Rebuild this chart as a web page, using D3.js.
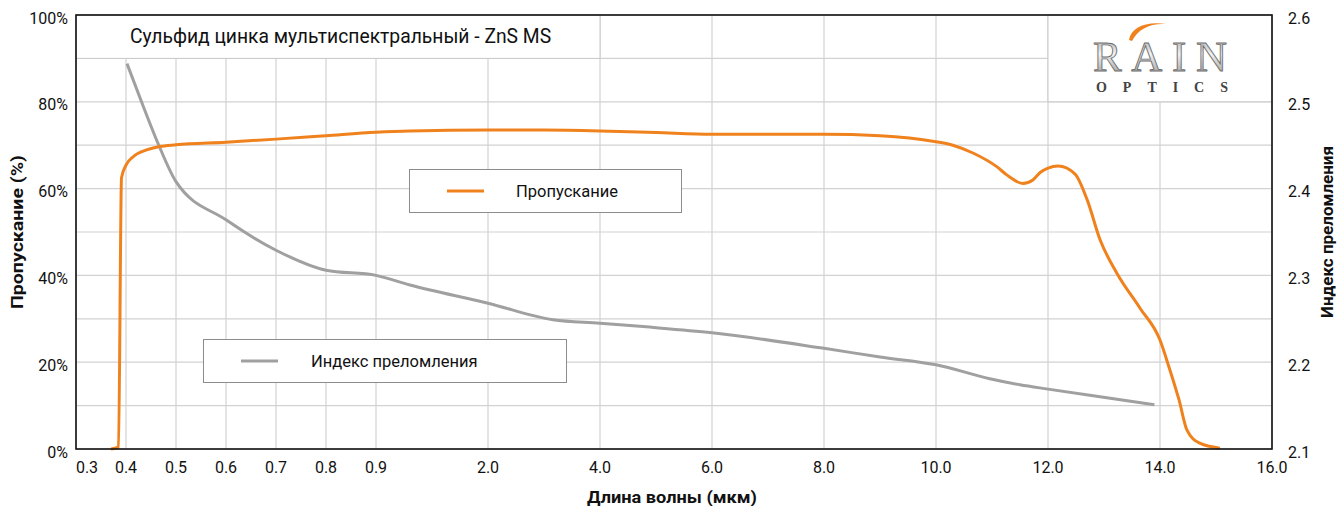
<!DOCTYPE html>
<html>
<head>
<meta charset="utf-8">
<script src="https://cdn.jsdelivr.net/npm/d3@7"></script>
<style>
  body { margin: 0; background: #fff; }
  svg { display: block; font-family: Roboto, "Noto Sans", sans-serif; }
</style>
</head>
<body>
<svg id="chart" width="1338" height="506"></svg>
<script>
// Axis ticks (wavelength axis is piecewise: 0.3..0.9 fine, 2..16 coarse)
const xTicks = [0.3, 0.4, 0.5, 0.6, 0.7, 0.8, 0.9, 2, 4, 6, 8, 10, 12, 14, 16];
const xTickLabels = ["0.3", "0.4", "0.5", "0.6", "0.7", "0.8", "0.9", "2.0", "4.0", "6.0", "8.0", "10.0", "12.0", "14.0", "16.0"];
const leftTicks = [0, 20, 40, 60, 80, 100];
const rightTicks = [2.1, 2.2, 2.3, 2.4, 2.5, 2.6];

// Transmission, %
const transWl = [0.370, 0.385, 0.391, 0.400, 0.415, 0.441, 0.467, 0.5, 0.6, 0.7, 0.8, 0.9, 1.234, 2, 3, 4, 5, 6, 7, 8, 9,
  10, 10.3, 10.66, 11.09, 11.27, 11.55, 11.73, 11.86, 12, 12.18, 12.48, 12.7, 12.93, 13.23, 13.64, 14, 14.16, 14.34, 14.48, 14.7, 15.07];
const transVal = [0, 0.5, 62.5, 65.4, 67.4, 68.9, 69.7, 70.1, 70.7, 71.4, 72.2, 73.0, 73.3, 73.5, 73.5, 73.3, 72.9, 72.5, 72.5, 72.5, 72.2,
  70.8, 70.0, 68.2, 65.0, 63.1, 61.2, 62.0, 63.7, 64.7, 65.2, 63.4, 57.4, 48.2, 40.5, 32.5, 25.1, 18.9, 11.3, 4.4, 1.4, 0.2];

// Refractive index
const indexWl = [0.402, 0.435, 0.467, 0.5, 0.6, 0.7, 0.8, 0.9, 1.234, 2, 3.16, 4, 4.77, 6, 8, 9, 10, 10.96, 11.5, 12, 13.05, 13.9];
const indexVal = [2.544, 2.494, 2.448, 2.408, 2.364, 2.329, 2.306, 2.300, 2.289, 2.268, 2.249, 2.245, 2.241, 2.234, 2.216, 2.206, 2.197, 2.181, 2.174, 2.169, 2.159, 2.151];

const orange = "#f0821e";
const grey = "#a0a0a0";

const svg = d3.select("#chart");
const mLeft = 76, mTop = 15, plotW = 1196, plotH = 434;
const fineStep = 50, coarseStep = 112;

const x = d3.scaleLinear()
  .domain(xTicks)
  .range(xTicks.map((d, i) => mLeft + (i <= 6 ? i * fineStep : 6 * fineStep + (i - 6) * coarseStep)));
const yL = d3.scaleLinear().domain([0, 100]).range([mTop + plotH, mTop]);
const yR = d3.scaleLinear().domain([2.1, 2.6]).range([mTop + plotH, mTop]);

// grid
const grid = svg.append("g").attr("stroke", "#d2d2d2").attr("stroke-width", 1.2);
grid.selectAll(".h").data(d3.range(0, 101, 10)).join("line")
  .attr("class", "h")
  .attr("x1", mLeft).attr("x2", mLeft + plotW)
  .attr("y1", d => yL(d)).attr("y2", d => yL(d));
grid.selectAll(".v").data(xTicks).join("line")
  .attr("class", "v")
  .attr("x1", d => x(d)).attr("x2", d => x(d))
  .attr("y1", mTop).attr("y2", mTop + plotH);

// title box and logo box
svg.append("rect")
  .attr("x", x(0.3)).attr("y", yL(100))
  .attr("width", x(4) - x(0.3)).attr("height", yL(90) - yL(100))
  .attr("fill", "#fff").attr("stroke", "#c8c8c8");
svg.append("text")
  .attr("x", 130).attr("y", yL(95))
  .attr("dy", "0.35em")
  .attr("font-size", 19.3).attr("fill", "#111")
  .text("Сульфид цинка мультиспектральный - ZnS MS");

svg.append("rect")
  .attr("x", x(12)).attr("y", yL(100))
  .attr("width", x(16) - x(12)).attr("height", yL(80) - yL(100))
  .attr("fill", "#fff").attr("stroke", "#c8c8c8");

// logo
const defs = svg.append("defs");
const lg = defs.append("linearGradient").attr("id", "metal").attr("x1", 0).attr("y1", 0).attr("x2", 0).attr("y2", 1);
lg.append("stop").attr("offset", "0%").attr("stop-color", "#9a9a9a");
lg.append("stop").attr("offset", "45%").attr("stop-color", "#f2f2f2");
lg.append("stop").attr("offset", "100%").attr("stop-color", "#8a8a8a");
const logo = svg.append("g");
logo.append("text")
  .attr("x", 1093).attr("y", 71)
  .attr("font-family", "'Liberation Serif', 'DejaVu Serif', serif")
  .attr("font-size", 43)
  .attr("textLength", 134).attr("lengthAdjust", "spacing")
  .attr("fill", "url(#metal)").attr("stroke", "#6e6e6e").attr("stroke-width", 0.9)
  .text("RAIN");
logo.append("path")
  .attr("d", "M1129,40 C1131,28 1145,21 1166,24 C1150,23 1138,29 1132,41 Z")
  .attr("fill", orange);
logo.append("text")
  .attr("x", 1096).attr("y", 92)
  .attr("font-family", "'Liberation Serif', 'DejaVu Serif', serif")
  .attr("font-size", 14).attr("font-weight", "bold")
  .attr("textLength", 132).attr("lengthAdjust", "spacing")
  .attr("fill", "#444")
  .text("OPTICS");

// curves
const line = d3.line().curve(d3.curveMonotoneX);
svg.append("path")
  .attr("d", line(indexWl.map((d, i) => [x(d), yR(indexVal[i])])))
  .attr("fill", "none").attr("stroke", grey).attr("stroke-width", 3);
svg.append("path")
  .attr("d", line(transWl.map((d, i) => [x(d), yL(transVal[i])])))
  .attr("fill", "none").attr("stroke", orange).attr("stroke-width", 3);

// legends
function legend(x0, y0, w, h, color, label, lineX, textX) {
  const g = svg.append("g");
  g.append("rect").attr("x", x0).attr("y", y0).attr("width", w).attr("height", h)
    .attr("fill", "#fff").attr("stroke", "#8c8c8c");
  g.append("line").attr("x1", lineX).attr("x2", lineX + 37)
    .attr("y1", y0 + h / 2).attr("y2", y0 + h / 2)
    .attr("stroke", color).attr("stroke-width", 3);
  g.append("text").attr("x", textX).attr("y", y0 + h / 2).attr("dy", "0.35em")
    .attr("font-size", 16.5).attr("fill", "#111").text(label);
}
legend(409.5, 169.5, 272, 43, orange, "Пропускание", 447, 516);
legend(203.5, 339.5, 363, 43, grey, "Индекс преломления", 241, 311);

// frame
svg.append("rect")
  .attr("x", mLeft).attr("y", mTop).attr("width", plotW).attr("height", plotH)
  .attr("fill", "none").attr("stroke", "#111").attr("stroke-width", 1.6);

// axes
const xAxis = svg.append("g").attr("font-size", 16).attr("fill", "#111");
xAxis.selectAll("text").data(xTicks).join("text")
  .attr("x", (d, i) => i === 0 ? x(d) + 11 : x(d))
  .attr("y", mTop + plotH + 18)
  .attr("dy", "0.35em")
  .attr("text-anchor", "middle")
  .text((d, i) => xTickLabels[i]);

const leftAxis = svg.append("g").attr("font-size", 16).attr("fill", "#111");
leftAxis.selectAll("text").data(leftTicks).join("text")
  .attr("x", mLeft - 8).attr("y", d => yL(d) + 3)
  .attr("dy", "0.35em").attr("text-anchor", "end")
  .text(d => d + "%");

const rightAxis = svg.append("g").attr("font-size", 16).attr("fill", "#111");
rightAxis.selectAll("text").data(rightTicks).join("text")
  .attr("x", mLeft + plotW + 16).attr("y", d => yR(d) + 3)
  .attr("dy", "0.35em").attr("text-anchor", "start")
  .text(d => d.toFixed(1));

function axisTitle(sel, len, size) {
  return sel.attr("dy", "0.35em").attr("text-anchor", "middle")
    .attr("font-size", size).attr("font-weight", "bold").attr("fill", "#111")
    .attr("textLength", len).attr("lengthAdjust", "spacingAndGlyphs");
}
axisTitle(svg.append("text")
  .attr("x", 672).attr("y", 497), 170, 17)
  .text("Длина волны (мкм)");
axisTitle(svg.append("text")
  .attr("transform", `translate(17,${mTop + plotH / 2}) rotate(-90)`), 154, 17)
  .text("Пропускание (%)");
axisTitle(svg.append("text")
  .attr("transform", `translate(1327,${mTop + plotH / 2}) rotate(-90)`), 172, 16)
  .text("Индекс преломления");
</script>
</body>
</html>
